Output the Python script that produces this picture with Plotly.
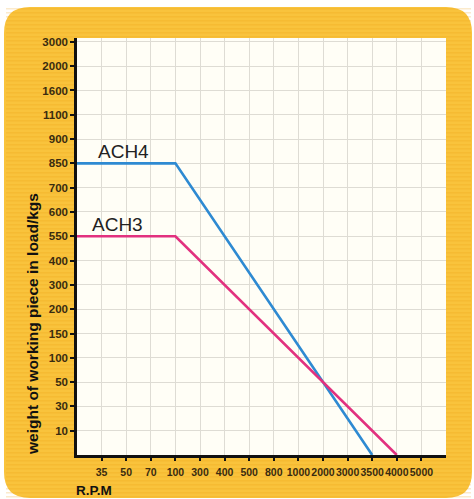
import plotly.graph_objects as go

# ---- data ----
rpm_labels = ["35", "50", "70", "100", "300", "400", "500", "800",
              "1000", "2000", "3000", "3500", "4000", "5000"]
load_labels = ["10", "30", "50", "100", "150", "200", "300", "400", "550",
               "600", "700", "850", "900", "1100", "1600", "2000", "3000"]

ach4_rpm = [0, 100, 3500]
ach4_load = [850, 850, 0]
ach3_rpm = [0, 100, 4000]
ach3_load = [550, 550, 0]


def pos(v, labels):
    """Ordinal position of a value on the chart's non-linear scale (0 = axis origin)."""
    return 0 if v == 0 else labels.index(str(v)) + 1


W, H = 474, 499
ML, MR, MT, MB = 77, 28, 38, 44
PW, PH = W - ML - MR, H - MT - MB


def px2paper(px, py):
    return (px - ML) / PW, (H - MB - py) / PH


def rounded_path(x0, y0, x1, y1, r):
    def P(x, y):
        a, b = px2paper(x, y)
        return f"{a:.5f},{b:.5f}"
    return (f"M{P(x0 + r, y0)} L{P(x1 - r, y0)} Q{P(x1, y0)} {P(x1, y0 + r)} "
            f"L{P(x1, y1 - r)} Q{P(x1, y1)} {P(x1 - r, y1)} "
            f"L{P(x0 + r, y1)} Q{P(x0, y1)} {P(x0, y1 - r)} "
            f"L{P(x0, y0 + r)} Q{P(x0, y0)} {P(x0 + r, y0)} Z")


fig = go.Figure()

fig.add_trace(go.Scatter(
    x=[pos(v, rpm_labels) for v in ach4_rpm],
    y=[pos(v, load_labels) for v in ach4_load],
    mode="lines", line=dict(color="#2E8AD2", width=2.6),
    name="ACH4", showlegend=False, cliponaxis=False))
fig.add_trace(go.Scatter(
    x=[pos(v, rpm_labels) for v in ach3_rpm],
    y=[pos(v, load_labels) for v in ach3_load],
    mode="lines", line=dict(color="#E2317F", width=2.6),
    name="ACH3", showlegend=False, cliponaxis=False))

shapes = [
    dict(type="path", xref="paper", yref="paper", layer="below",
         path=rounded_path(4, 7, 472, 498, 26),
         fillcolor="#F9C33C", line=dict(width=0)),
]
# faint horizontal stripes of the printed background
for k in range(8, 497, 4):
    a, b0 = px2paper(6, k)
    c, b1 = px2paper(471, k + 1.6)
    shapes.append(dict(type="rect", xref="paper", yref="paper", layer="below",
                       x0=a, x1=c, y0=b1, y1=b0,
                       fillcolor="rgba(236,160,20,0.22)", line=dict(width=0)))
shapes.append(dict(type="rect", xref="paper", yref="paper", layer="below",
                   x0=0, x1=1, y0=0, y1=1, fillcolor="#FFFEF6", line=dict(width=0)))

x_tick_font = dict(family="Liberation Sans", size=10.5, color="#3A2C10", weight="bold")
y_tick_font = dict(family="Liberation Sans", size=11.5, color="#3A2C10", weight="bold")

fig.update_layout(
    width=W, height=H,
    margin=dict(l=ML, r=MR, t=MT, b=MB, pad=0),
    paper_bgcolor="white", plot_bgcolor="rgba(0,0,0,0)",
    shapes=shapes,
    xaxis=dict(range=[0, 15], tickmode="array",
               tickvals=list(range(1, len(rpm_labels) + 1)), ticktext=rpm_labels,
               tickangle=0, ticklabelstandoff=3,
               showgrid=True, gridcolor="#DEDCD4", gridwidth=1, zeroline=False,
               showline=True, linecolor="#111", linewidth=2.5,
               ticks="outside", ticklen=3, tickwidth=2, tickcolor="#111",
               tickfont=x_tick_font, fixedrange=True),
    yaxis=dict(range=[0, 17.16], tickmode="array",
               tickvals=list(range(1, len(load_labels) + 1)), ticktext=load_labels,
               showgrid=True, gridcolor="#DEDCD4", gridwidth=1, zeroline=False,
               showline=True, linecolor="#111", linewidth=2.5,
               ticks="outside", ticklen=4, tickwidth=2, tickcolor="#111",
               tickfont=y_tick_font, fixedrange=True),
    annotations=[
        dict(text="ACH4", x=1.89, y=12.49, xref="x", yref="y", showarrow=False,
             font=dict(family="Liberation Sans", size=19, color="#222")),
        dict(text="ACH3", x=1.65, y=9.49, xref="x", yref="y", showarrow=False,
             font=dict(family="Liberation Sans", size=19, color="#222")),
        dict(text="weight of working piece in load/kgs", textangle=-90,
             x=px2paper(32, 324)[0], y=px2paper(32, 324)[1], xref="paper", yref="paper",
             showarrow=False, xanchor="center", yanchor="middle",
             font=dict(family="Liberation Sans", size=15.5, color="#111", weight="bold")),
        dict(text="R.P.M", x=px2paper(94, 491)[0], y=px2paper(94, 491)[1],
             xref="paper", yref="paper", showarrow=False,
             xanchor="center", yanchor="middle",
             font=dict(family="Liberation Sans", size=13.5, color="#111", weight="bold")),
    ],
)

fig.write_html("out.html", config={"displayModeBar": False},
               post_script="document.body.style.margin='0';")
